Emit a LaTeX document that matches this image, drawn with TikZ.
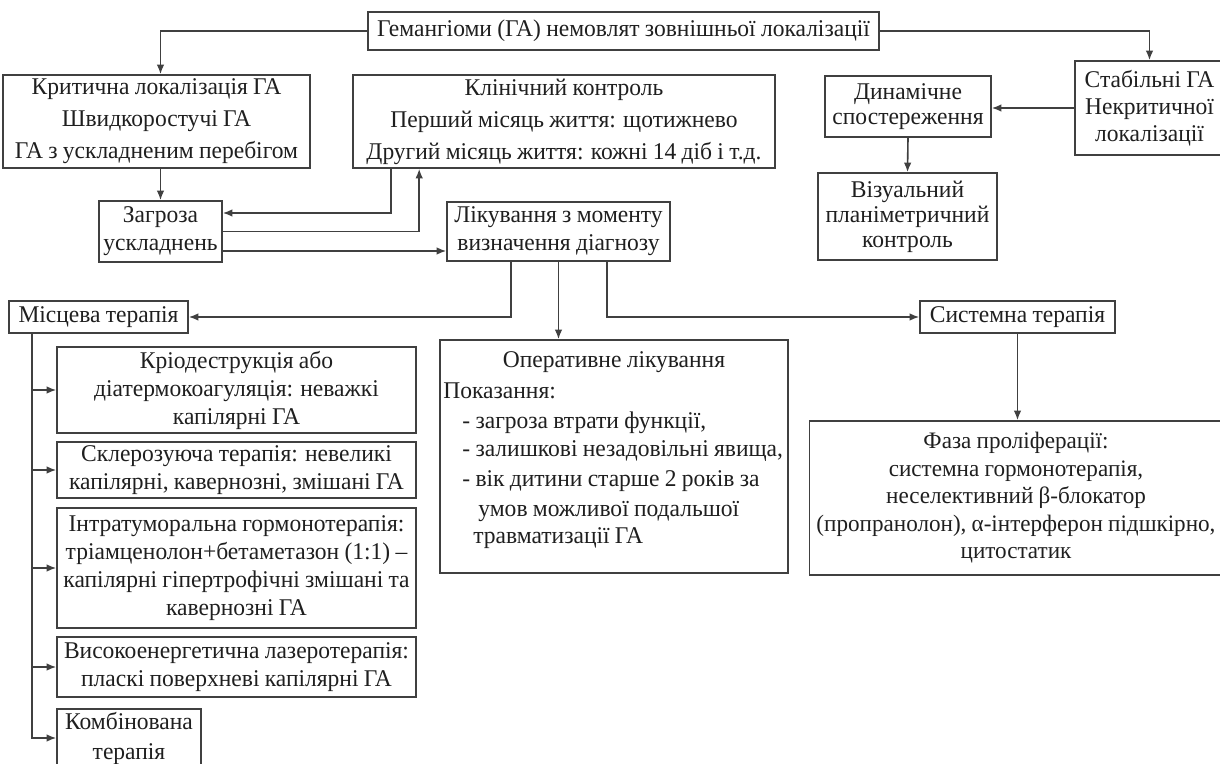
\documentclass[tikz,border=0pt]{standalone}
\usepackage{fontspec}
\setmainfont{Liberation Serif}[FakeStretch=0.98, WordSpace=0.9]
\usetikzlibrary{arrows.meta,calc}
\tikzset{
  box/.style={draw=black!75, line width=0.8pt, inner sep=0pt, align=center, text=black!88, font=\fontsize{12}{14}\selectfont},
  txt/.style={inner sep=0pt, text=black!88, font=\fontsize{12}{14}\selectfont},
  arr/.style={draw=black!75, line width=0.8pt, -{Latex[length=4.8pt,width=3.8pt]}},
}
\begin{document}
\begin{tikzpicture}[x=0.5pt,y=-0.5pt]
\useasboundingbox (0,0) rectangle (1220,764);
\clip (0,0) rectangle (1220,764);
% top row
\node[box, minimum width=255.5pt, minimum height=19pt] (top) at (623.5,31) {Гемангіоми (ГА) немовлят зовнішньої локалізації};
\node[box, minimum width=153.5pt, minimum height=46.5pt, font=\fontsize{12}{16}\selectfont] (crit) at (156.5,121.5) {Критична локалізація ГА\\Швидкоростучі ГА\\ГА з ускладненим перебігом};
\node[box, minimum width=211pt, minimum height=46.5pt, font=\fontsize{12}{16}\selectfont] (klin) at (564,121.5) {Клінічний контроль\\Перший місяць життя: щотижнево\\Другий місяць життя: кожні 14 діб і т.д.};
\node[box, minimum width=74.5pt, minimum height=47pt, font=\fontsize{12}{13.5}\selectfont] (stab) at (1149.5,108) {Стабільні ГА\\Некритичної\\локалізації};
\node[box, minimum width=83pt, minimum height=30.5pt, font=\fontsize{12}{12.5}\selectfont] (dyn) at (908,106.5) {Динамічне\\спостереження};
\node[box, minimum width=89.5pt, minimum height=43.5pt, font=\fontsize{12}{12.5}\selectfont] (viz) at (907.5,216.5) {Візуальний\\планіметричний\\контроль};
\node[box, minimum width=61.5pt, minimum height=30.5pt] (zag) at (160.5,231.5) {Загроза\\ускладнень};
\node[box, minimum width=111.5pt, minimum height=29.5pt] (lik) at (558.5,231.5) {Лікування з моменту\\визначення діагнозу};
% middle row
\node[box, minimum width=89.5pt, minimum height=16pt] (misc) at (98.5,317) {Місцева терапія};
\node[box, minimum width=97.5pt, minimum height=16pt] (sys) at (1017.5,317) {Системна терапія};
\node[box, minimum width=174pt, minimum height=116.5pt] (oper) at (614,456.5) {};
\node[txt, anchor=base] (opt0) at (614,368) {Оперативне лікування};
\node[txt, anchor=base west] (opt1) at (443,399) {Показання:};
\node[txt, anchor=base west] (opt2) at (462,429) {- загроза втрати функції,};
\node[txt, anchor=base west] (opt3) at (462,456) {- залишкові незадовільні явища,};
\node[txt, anchor=base west] (opt4) at (462,486) {- вік дитини старше 2 років за};
\node[txt, anchor=base west] (opt5) at (478,516) {умов можливої подальшої};
\node[txt, anchor=base west] (opt6) at (473,543) {травматизації ГА};
\node[box, minimum width=206.5pt, minimum height=77pt, font=\fontsize{11.8}{13.75}\selectfont] (faza) at (1016,498) {Фаза проліферації:\\системна гормонотерапія,\\неселективний β-блокатор\\(пропранолон), α-інтерферон підшкірно,\\цитостатик};
% local therapy list
\node[box, minimum width=179.5pt, minimum height=43pt] (krio) at (236.5,390) {Кріодеструкція або\\діатермокоагуляція: неважкі\\капілярні ГА};
\node[box, minimum width=179.5pt, minimum height=28pt] (skler) at (236.5,470) {Склерозуюча терапія: невеликі\\капілярні, кавернозні, змішані ГА};
\node[box, minimum width=179.5pt, minimum height=60pt] (intra) at (236.5,568) {Інтратуморальна гормонотерапія:\\тріамценолон+бетаметазон (1:1) –\\капілярні гіпертрофічні змішані та\\кавернозні ГА};
\node[box, minimum width=179.5pt, minimum height=30pt] (vys) at (236.5,667) {Високоенергетична лазеротерапія:\\пласкі поверхневі капілярні ГА};
\node[box, minimum width=72pt, minimum height=29pt, font=\fontsize{12}{15}\selectfont] (komb) at (129,738) {Комбінована\\терапія};
% connectors
\draw[arr] (top.west) -| ([xshift=2pt]crit.north);
\draw[arr] (top.east) -| (stab.north);
\draw[arr] (crit.south -| zag.north) -- (zag.north);
\draw[arr] ($(klin.south west)+(39,0)$) |- ($(zag.east)+(0,-18.5)$);
\draw[arr] (zag.east) -| ($(klin.south west)+(67,0)$);
\coordinate (z3) at ($(zag.east)+(0,19.5)$);
\draw[arr] (z3) -- (z3 -| lik.west);
\draw[arr] (stab.west) -- (stab.west -| dyn.east);
\draw[arr] (dyn.south) -- (viz.north);
\draw[arr] ($(lik.south west)+(65,0)$) |- (misc.east);
\draw[arr] (lik.south) -- (lik.south |- oper.north);
\draw[arr] ($(lik.south west)+(161,0)$) |- (sys.west);
\draw[arr] (sys.south) -- (sys.south |- faza.north);
\coordinate (trunk) at ($(misc.south west)+(24,0)$);
\foreach \n in {krio,skler,intra,vys,komb} \draw[arr] (trunk) |- (\n.west);
\end{tikzpicture}
\end{document}
